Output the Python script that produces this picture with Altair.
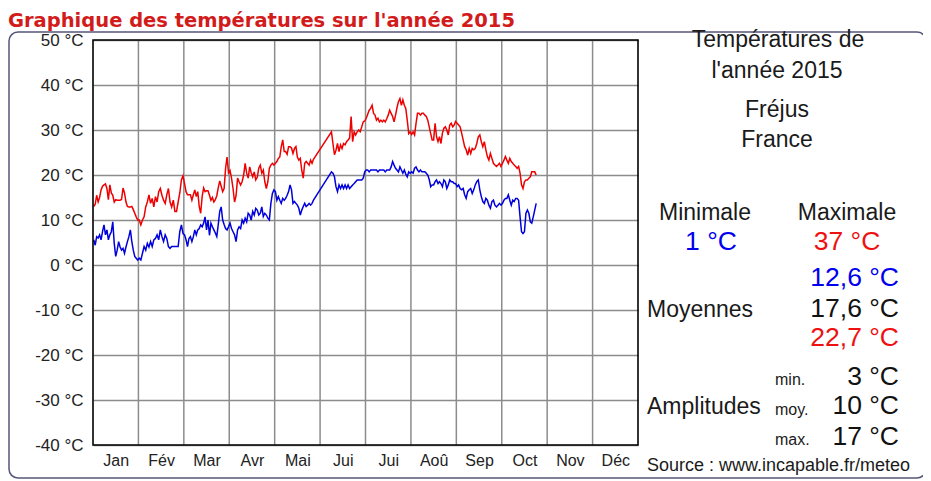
import altair as alt
import pandas as pd

# ---------------- data ----------------
months = ["Jan", "Fév", "Mar", "Avr", "Mai", "Jui", "Jui", "Aoû", "Sep", "Oct", "Nov", "Déc"]
y_ticks = [-40, -30, -20, -10, 0, 10, 20, 30, 40, 50]

# daily maximum temperatures (°C), 1 Jan -> 24 Oct 2015 (None = missing day)
tmax_jan = [13, 13.5, 15.5, 14, 15, 16.7, 17.5, 17.8, 18, 17, 14.5, 17.8, 16, 15.5, 14, 14.5,
            14.4, 14.4, 14.4, 14.6, 17.1, 16, 14, 13, 12.9, 12.9, 13, 12.3, 11.5, 10.7, 10]
tmax_feb = [10, 8.9, 10, 10.7, 12.9, 14, 15.6, 13.7, 14.8, 12.9, 15.2, 14, 16.3, 17, 15.5, 14.4,
            13.7, 15.6, 17, 14, 12.9, 14.4, 11.9, 11.9, 14, 16, 18.9, 19.8]
tmax_mar = [18.1, 16.3, 15.6, 15.6, 15.6, 14.4, 15.6, 16.7, 15.2, 16.3, 13, 11.5, 15.2, 17.1, 16.3,
            16.5, 16.5, 15.5, 14.4, 15, 14, 14.5, 15.4, 17.2, 18.7, 17.5, 16.3, 17, 21.5, 24, 20.5]
tmax_apr = [21, 19.3, 17, 14, 15.4, 19.3, 18.5, 17.8, 18.5, 20, 22.6, 20.4, 19.3, 21.8, 20.5,
            19.6, 20.7, 18.9, 19.5, 21.5, 22.2, 20.4, 21.1, 18.5, 17, 18.5, 21.5, 22.2, 22.6, 22.2]
tmax_may = [22.6, 23, 23.7, 24, 26.3, 27.8, 25.2, 25.2, 24.6, 26.3, 26.3, 26, 24.8, 25.9, 26.3,
            24, 23.3, 23.7, 21, 19.3, 22.6, 23, 22.6, 22.2, 23.3, 22.6, 23.5, None, None, None, None]
tmax_jun = [None, None, None, None, None, None, None,
            29.6, 27, 24.5, 25.5, 27, 25.2, 26.7, 25.9, 27, 26.7, 27.4, 27.8, 28.2, 33, 27.4,
            29.6, 28.9, 29.6, 30, 29.6, 30.7, 31.8, 32]
tmax_jul = [32.6, 33.5, 34.4, 34.8, 35.5, 33.7, 33.3, 32.2, 32.6, 31.8, 32.2, 31.8, 32.2, 31.8,
            32.5, 33.3, 34.4, 33.7, 33, 31.8, 33.3, 35, 36.3, 37, 35.5, 36.7, 35.5, 34.8, 32.2,
            29.2, 29.6]
tmax_aug = [29, 29.6, 28.9, 31.5, 33.7, 33.7, 33.3, 33.7, 33.7, 33.3, 33, 32.2, 30.7, 29.2, 27.8,
            27.8, 31.5, 28.5, 27.4, 28.5, 27, 29.3, 30.4, 30.7, 30, 28.9, 31.1, 31.5, 30.7, 31.1,
            31.9]
tmax_sep = [31.5, 31.1, 30.7, 29.3, 27.8, 26.3, 25.6, 24.4, 25.9, 24.8, 25.9, 25.6, 25.9, 27,
            28.5, 28.9, 27.4, 26.3, 27.4, 25.6, 24.1, 23.3, 24.8, 23.7, 22.6, 22.2, 21.9, 22.2,
            22.6, 21.9]
tmax_oct = [22.6, 23.3, 24.1, 23.3, 22.6, 23.7, 23, 22.6, 22.2, 21.9, 21.5, 21.9, 20.4, 17.8, 17,
            18.5, 18.9, 18.9, 19.3, 19.6, 20.7, 20.7, 20.7, 20]

# daily minimum temperatures (°C)
tmin_jan = [5.6, 4.4, 6.3, 6, 6.7, 5.6, 7.4, 8.9, 6.7, 7.8, 5.6, 6.7, 7.4, 9.6, 4.8, 1.9, 3.3,
            5.2, 4, 3.3, 3.7, 2.6, 4, 5.2, 6.3, 7.8, 5.2, 3.3, 1.9, 1.5, 1.1]
tmin_feb = [1.5, 1.1, 2.6, 4.1, 3.3, 4.8, 4, 5.2, 4.1, 5.6, 5.9, 6.7, 5.6, 7.8, 6.3, 5.2, 6.7,
            5.9, 4.1, 3.7, 4.1, 4.1, 4.1, 4.1, 4.1, 7.4, 8.9, 7]
tmin_mar = [6.7, 5.6, 4.1, 5.9, 6.3, 5.2, 6.3, 7.8, 6.7, 7.8, 8.1, 8.9, 8.5, 9.3, 10.7, 7.8, 10,
            6.6, 9.3, 8.5, 7.8, 7.1, 6.3, 9, 11.9, 12.9, 10, 9, 8.1, 7.8, 8.5]
tmin_apr = [9.3, 8.1, 7.4, 6.7, 5.2, 7.8, 8.5, 8.1, 10, 9.3, 10.4, 9.6, 11.5, 11.1, 10, 11.9,
            11.1, 12.6, 12.2, 11.1, 11.5, 12.9, 10.8, 11.5, 11.1, 10.4, 10, 13.7, 15.9, 16.7]
tmin_may = [16.3, 14.4, 15.2, 14.4, 13.7, 14.8, 14.4, 14.8, 15.5, 16.3, 17.8, 16.7, 13.7, 14.1,
            13.7, 13.3, 12.6, 11.1, 12.2, 13, 13.7, 13, 13.3, 13.7, 13.3, 13.7, 14.4,
            None, None, None, None]
tmin_jun = [None, None, None, None, None, None, None,
            20.7, 20.4, 19.6, 17.4, 16.3, 17.8, 17, 17.8, 17, 17.8, 17, 17.8, 17, 17.4, 17.8,
            18.1, 18.5, 18.9, 18.9, 18.9, 18.9, 19.3, 20.7]
tmin_jul = [21.1, 21.1, 20.7, 21.1, 21.1, 21.1, 21.1, 21.1, 20.7, 21.1, 21.1, 21.1, 21.1, 20.7,
            21.1, 21.1, 21.1, 21.8, 23, 22.2, 21.5, 21.1, 20.7, 21.8, 21.1, 20.4, 21.1, 20.2,
            19.6, 20.7, 20.4]
tmin_aug = [20.7, 20.4, 21.5, 21.8, 21.1, 20.7, 21.1, 20.7, 20.7, 20.7, 20.4, 20, 19, 17.4, 17.8,
            17.8, 18.5, 18.9, 18.1, 18.5, 18.1, 17.4, 18.9, 18.5, 17, 17.8, 18.9, 18.5, 18.5,
            18.1, 18.1]
tmin_sep = [17.4, 17.8, 17, 16.7, 17, 15.6, 14.8, 16.3, 16.7, 17, 15.9, 16.7, 17.8, 18.5, 18.9,
            16.7, 15.2, 14.1, 13.7, 14.8, 14.4, 13.3, 12.6, 14.1, 14.4, 13.3, 12.9, 13.3, 13.7,
            13.3]
tmin_oct = [13.7, 14.4, 14.8, 14.8, 15.6, 14.4, 13.3, 14.4, 14.1, 14.8, 14.8, 14.4, 10.7, 7.4, 7,
            7.4, 11.5, 12.2, 11.5, 9.6, 9.3, 10.7, 12.2, 13.7]

title_text = "Graphique des températures sur l'année 2015"
panel_title = ["Températures de", "l'année 2015"]
place = ["Fréjus", "France"]
extreme_heads = ["Minimale", "Maximale"]
extreme_vals = ["1 °C", "37 °C"]
mean_head = "Moyennes"
mean_vals = ["12,6 °C", "17,6 °C", "22,7 °C"]
ampl_head = "Amplitudes"
ampl_keys = ["min.", "moy.", "max."]
ampl_vals = ["3 °C", "10 °C", "17 °C"]
source_text = "Source : www.incapable.fr/meteo"

# ---------------- build table ----------------
tmax = (tmax_jan + tmax_feb + tmax_mar + tmax_apr + tmax_may + tmax_jun + tmax_jul
        + tmax_aug + tmax_sep + tmax_oct)
tmin = (tmin_jan + tmin_feb + tmin_mar + tmin_apr + tmin_may + tmin_jun + tmin_jul
        + tmin_aug + tmin_sep + tmin_oct)
dates = pd.date_range("2015-01-01", periods=len(tmax), freq="D")
pos = (dates.month - 1) + (dates.day - 0.5) / dates.days_in_month
df = pd.DataFrame({"pos": pos, "tmax": pd.to_numeric(pd.Series(tmax), errors="coerce"),
                   "tmin": pd.to_numeric(pd.Series(tmin), errors="coerce")})
df_max = df[["pos", "tmax"]].dropna().rename(columns={"tmax": "t"})
df_min = df[["pos", "tmin"]].dropna().rename(columns={"tmin": "t"})

W, H = 545, 405
FONT = "Liberation Sans"
xscale = alt.Scale(domain=[0, 12], nice=False, zero=False)
yscale = alt.Scale(domain=[-40, 50], nice=False, zero=False)

month_expr = "[" + ",".join("'" + m + "'" for m in months) + "][floor(datum.value)]"

x_axis = alt.Axis(values=[i + 0.5 for i in range(12)], labelExpr=month_expr, grid=False,
                  ticks=False, domain=False, labelPadding=7, labelFontSize=16, labelFont=FONT,
                  labelColor="#222222", title=None, labelAngle=0, labelOverlap=False,
                  labelFlush=False)
y_axis = alt.Axis(values=y_ticks, labelExpr="datum.value + ' °C'", grid=True,
                  gridColor="#8c8c8c", gridWidth=1.5, ticks=False, domain=False,
                  labelPadding=10, labelFontSize=17, labelFont=FONT, labelColor="#222222",
                  title=None, labelFlush=False)

vgrid = alt.Chart(pd.DataFrame({"b": list(range(1, 12))})).mark_rule(
    color="#8c8c8c", strokeWidth=1.5).encode(x=alt.X("b:Q", scale=xscale, axis=x_axis))

line_max = alt.Chart(df_max).mark_line(color="#ee0000", strokeWidth=1.5).encode(
    x=alt.X("pos:Q", scale=xscale, axis=x_axis),
    y=alt.Y("t:Q", scale=yscale, axis=y_axis))
line_min = alt.Chart(df_min).mark_line(color="#0000dd", strokeWidth=1.5).encode(
    x=alt.X("pos:Q", scale=xscale),
    y=alt.Y("t:Q", scale=yscale))

one = pd.DataFrame({"k": [0]})
border = alt.Chart(one).mark_rect(fillOpacity=0, stroke="#000000", strokeWidth=1.6).encode(
    x=alt.value(0), x2=alt.value(W), y=alt.value(0), y2=alt.value(H))
outer = alt.Chart(one).mark_rect(fillOpacity=0, stroke="#55557a", strokeWidth=1.5,
                                 cornerRadius=9).encode(
    x=alt.value(-84), x2=alt.value(833), y=alt.value(-8), y2=alt.value(438))


def label(txt, x, y, size, color="#1a1a1a", align="left", weight="normal", font=FONT):
    return alt.Chart(pd.DataFrame({"t": [txt]})).mark_text(
        align=align, baseline="alphabetic", fontSize=size, color=color, font=font,
        fontWeight=weight).encode(x=alt.value(x), y=alt.value(y), text="t:N")


BLUE_T, RED_T, BLACK_T = "#0000ee", "#ee1111", "#111111"
LAB, VAL = 23, 26.5
texts = [
    label(title_text, -85, -13.5, 19.5, color="#d21b1b", weight="bold", font="DejaVu Sans"),
    label(panel_title[0], 685, 7, LAB, align="center"),
    label(panel_title[1], 684, 38, LAB, align="center"),
    label(place[0], 684, 77, LAB, align="center"),
    label(place[1], 684, 107, LAB, align="center"),
    label(extreme_heads[0], 612, 180, LAB, align="center"),
    label(extreme_heads[1], 754, 180, LAB, align="center"),
    label(extreme_vals[0], 618, 210, VAL, color=BLUE_T, align="center"),
    label(extreme_vals[1], 754, 210, VAL, color=RED_T, align="center"),
    label(mean_vals[0], 806, 246, VAL, color=BLUE_T, align="right"),
    label(mean_head, 554, 277, LAB),
    label(mean_vals[1], 806, 277, VAL, color=BLACK_T, align="right"),
    label(mean_vals[2], 806, 306, VAL, color=RED_T, align="right"),
    label(ampl_keys[0], 682, 345, 16),
    label(ampl_vals[0], 806, 345, VAL, color=BLACK_T, align="right"),
    label(ampl_head, 554, 374, LAB),
    label(ampl_keys[1], 682, 375, 16),
    label(ampl_vals[1], 806, 374, VAL, color=BLACK_T, align="right"),
    label(ampl_keys[2], 682, 405, 16),
    label(ampl_vals[2], 806, 405, VAL, color=BLACK_T, align="right"),
    label(source_text, 554, 431, 18),
]

chart = alt.layer(vgrid, line_max, line_min, border, outer, *texts).properties(
    width=W, height=H,
    autosize=alt.AutoSizeParams(type="none"),
    padding={"left": 85, "top": 32, "right": 285, "bottom": 36},
    background="white",
).configure_view(strokeWidth=0)

chart.save("out.html", embed_options={"renderer": "svg", "actions": False})
